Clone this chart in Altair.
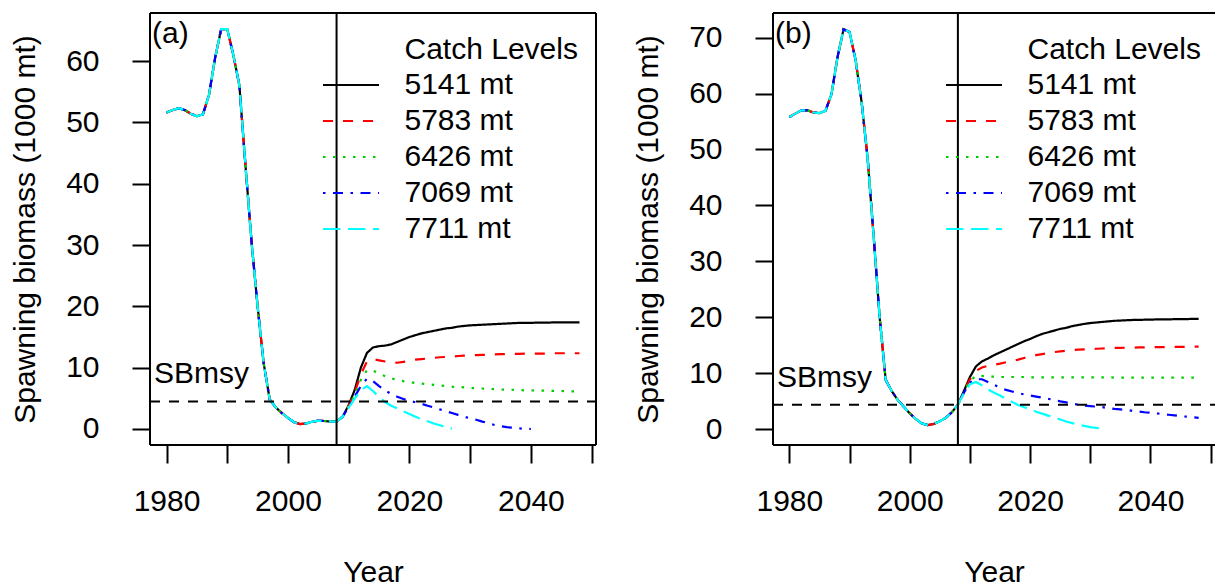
import altair as alt
import pandas as pd

FONT = "Liberation Sans"
FS = 30

# ---------------- data ----------------
years_hist = list(range(1980, 2009))
catch_levels = ["5141 mt", "5783 mt", "6426 mt", "7069 mt", "7711 mt"]
series_colors = ["#000000", "#FF0000", "#00CD00", "#0000FF", "#00FFFF"]
series_dash = [[1, 0], [10, 10], [2.5, 7.5], [2.5, 7.5, 10, 7.5], [17.5, 7.5]]

# panel (a): historical spawning biomass 1980-2008
hist_a = [51.6, 52.0, 52.3, 52.0, 51.4, 51.0, 51.3, 54.5, 60.5, 65.2,
          65.2, 61.0, 56.0, 43.0, 30.5, 20.0, 10.7, 4.8, 3.5, 2.6,
          1.8, 1.1, 0.8, 0.9, 1.2, 1.35, 1.3, 1.2, 1.2]
# projections from 2009
proj_a = [
    [2.0, 3.9, 6.4, 10.0, 12.4, 13.3, 13.5, 13.6, 13.8, 14.2,
     14.6, 15.0, 15.3, 15.6, 15.8, 16.0, 16.2, 16.4, 16.5, 16.7,
     16.8, 16.9, 16.95, 17.0, 17.05, 17.1, 17.15, 17.2, 17.25, 17.3,
     17.3, 17.3, 17.35, 17.35, 17.35, 17.4, 17.4, 17.4, 17.4, 17.4],
    [2.0, 3.8, 6.0, 8.9, 11.0, 11.4, 11.2, 11.0, 10.85, 10.8,
     10.95, 11.1, 11.3, 11.4, 11.5, 11.6, 11.7, 11.75, 11.8, 11.9,
     11.95, 12.0, 12.05, 12.1, 12.1, 12.15, 12.2, 12.2, 12.25, 12.25,
     12.3, 12.3, 12.3, 12.3, 12.3, 12.35, 12.35, 12.35, 12.35, 12.35],
    [2.0, 3.7, 5.6, 8.0, 9.6, 9.5, 9.1, 8.6, 8.25, 8.0,
     7.8, 7.65, 7.5, 7.4, 7.3, 7.2, 7.1, 7.0, 6.9, 6.85,
     6.8, 6.7, 6.65, 6.6, 6.55, 6.5, 6.45, 6.4, 6.4, 6.35,
     6.3, 6.3, 6.25, 6.25, 6.2, 6.2, 6.2, 6.15, 6.15, 6.1],
    [2.0, 3.6, 5.3, 7.0, 8.2, 7.8, 7.0, 6.3, 5.7, 5.25,
     4.9, 4.6, 4.35, 4.1, 3.8, 3.5, 3.2, 2.9, 2.6, 2.3,
     2.0, 1.75, 1.5, 1.2, 0.95, 0.65, 0.45, 0.3, 0.2, 0.1,
     0.05, 0.0],
    [2.0, 3.5, 5.0, 6.3, 7.0, 6.2, 5.2, 4.4, 3.8, 3.35,
     2.9, 2.45, 2.0, 1.6, 1.25, 0.9, 0.6, 0.3, 0.05],
]
sbmsy_a = 4.5

# panel (b)
hist_b = [55.8, 56.4, 57.0, 57.0, 56.6, 56.5, 56.9, 59.9, 66.5, 71.5,
          71.0, 66.0, 58.5, 48.5, 34.5, 20.0, 8.8, 6.8, 5.2, 4.0,
          2.8, 1.8, 1.0, 0.7, 0.9, 1.4, 2.0, 3.0, 4.35]
proj_b = [
    [6.8, 9.3, 11.2, 12.1, 12.6, 13.2, 13.7, 14.2, 14.7, 15.2,
     15.7, 16.1, 16.6, 17.0, 17.3, 17.6, 17.9, 18.1, 18.4, 18.6,
     18.8, 18.95, 19.05, 19.15, 19.25, 19.35, 19.4, 19.45, 19.5, 19.5,
     19.55, 19.55, 19.6, 19.6, 19.6, 19.65, 19.65, 19.65, 19.7, 19.7],
    [6.7, 8.9, 10.4, 11.0, 11.3, 11.5, 11.7, 11.95, 12.15, 12.4,
     12.7, 12.95, 13.2, 13.4, 13.6, 13.75, 13.9, 14.0, 14.1, 14.2,
     14.25, 14.3, 14.35, 14.4, 14.45, 14.5, 14.5, 14.55, 14.55, 14.6,
     14.6, 14.6, 14.65, 14.65, 14.65, 14.7, 14.7, 14.7, 14.7, 14.75],
    [6.6, 8.6, 9.5, 9.5, 9.4, 9.35, 9.3, 9.3, 9.3, 9.3,
     9.3, 9.25, 9.25, 9.25, 9.25, 9.25, 9.25, 9.25, 9.25, 9.25,
     9.25, 9.25, 9.25, 9.25, 9.25, 9.2, 9.2, 9.2, 9.2, 9.2,
     9.2, 9.2, 9.2, 9.2, 9.2, 9.2, 9.2, 9.2, 9.2, 9.2],
    [6.5, 8.3, 8.9, 8.9, 8.4, 7.9, 7.4, 7.0, 6.7, 6.4,
     6.2, 6.0, 5.8, 5.6, 5.4, 5.2, 4.95, 4.75, 4.55, 4.35,
     4.2, 4.1, 4.0, 3.9, 3.75, 3.6, 3.5, 3.4, 3.25, 3.15,
     3.0, 2.9, 2.8, 2.65, 2.55, 2.45, 2.3, 2.2, 2.1, 2.0],
    [6.4, 8.0, 8.4, 7.8, 7.1, 6.5, 6.0, 5.4, 4.85, 4.3,
     3.9, 3.5, 3.1, 2.75, 2.4, 2.05, 1.7, 1.35, 1.05, 0.8,
     0.55, 0.35, 0.2, 0.05],
]
sbmsy_b = 4.35

x_ticks = [1980, 1990, 2000, 2010, 2020, 2030, 2040, 2050]
y_ticks_a = [0, 10, 20, 30, 40, 50, 60]
y_ticks_b = [0, 10, 20, 30, 40, 50, 60, 70]
x_domain = [1977.28, 2050.72]
y_domain_a = [-2.61, 67.83]
y_domain_b = [-2.86, 74.4]

PLOT_H = 432


def panel(tag, hist, projs, sbmsy, y_domain, y_ticks, width, right_edge):
    xs = alt.Scale(domain=x_domain, nice=False, zero=False)
    ys = alt.Scale(domain=y_domain, nice=False, zero=False)
    xaxis = alt.Axis(values=x_ticks, format="d",
                     labelExpr="datum.value % 20 == 0 ? datum.label : ''",
                     tickSize=18, tickWidth=2, tickColor="black",
                     domain=False, grid=False, labelFlush=False, labelOverlap=False,
                     labelFont=FONT, labelFontSize=FS, labelColor="black",
                     labelPadding=23, title="Year", titleFont=FONT,
                     titleFontSize=FS, titleFontWeight="normal", titleColor="black",
                     titleY=136.5, titleBaseline="alphabetic")
    yaxis = alt.Axis(values=y_ticks, format="d",
                     tickSize=18, tickWidth=2, tickColor="black",
                     domain=False, grid=False, labelOverlap=False,
                     labelFont=FONT, labelFontSize=FS, labelColor="black",
                     labelPadding=33, title="Spawning biomass (1000 mt)",
                     titleFont=FONT, titleFontSize=FS, titleFontWeight="normal",
                     titleColor="black", titleX=-116, titleBaseline="alphabetic")
    X = alt.X("year:Q", scale=xs, axis=xaxis)
    Y = alt.Y("value:Q", scale=ys, axis=yaxis)

    layers = []
    for i in range(len(catch_levels)):
        proj = projs[i]
        yrs = years_hist + list(range(years_hist[-1] + 1, years_hist[-1] + 1 + len(proj)))
        df = pd.DataFrame({"year": yrs, "value": hist + proj})
        layers.append(
            alt.Chart(df).mark_line(color=series_colors[i], strokeDash=series_dash[i],
                                    strokeWidth=2.2, strokeCap="butt", clip=True)
            .encode(x=X, y=Y)
        )
    # vertical line at the start of projections
    vdf = pd.DataFrame({"year": [years_hist[-1]]})
    layers.append(alt.Chart(vdf).mark_rule(color="black", strokeWidth=2)
                  .encode(x=X, y=alt.value(0), y2=alt.value(PLOT_H)))
    # SBmsy line
    sdf = pd.DataFrame({"value": [sbmsy]})
    layers.append(alt.Chart(sdf).mark_rule(color="black", strokeWidth=2, strokeDash=[10, 9])
                  .encode(y=Y, x=alt.value(0), x2=alt.value(width)))
    layers.append(alt.Chart(sdf).mark_text(align="left", baseline="alphabetic", dy=-18,
                                           font=FONT, fontSize=FS, color="black")
                  .encode(y=Y, x=alt.value(4), text=alt.value("SBmsy")))

    one = pd.DataFrame({"k": [0]})
    # panel tag
    layers.append(alt.Chart(one).mark_text(align="left", baseline="alphabetic",
                                           font=FONT, fontSize=FS, color="black")
                  .encode(x=alt.value(2), y=alt.value(30), text=alt.value(tag)))
    # legend
    layers.append(alt.Chart(one).mark_text(align="left", baseline="middle",
                                           font=FONT, fontSize=FS, color="black")
                  .encode(x=alt.value(254.5), y=alt.value(37), text=alt.value("Catch Levels")))
    for i, name in enumerate(catch_levels):
        yy = 72 + 36 * i
        layers.append(alt.Chart(one).mark_rule(color=series_colors[i], strokeDash=series_dash[i],
                                               strokeWidth=2.2, strokeCap="butt")
                      .encode(x=alt.value(173), x2=alt.value(229), y=alt.value(yy)))
        layers.append(alt.Chart(one).mark_text(align="left", baseline="middle",
                                               font=FONT, fontSize=FS, color="black")
                      .encode(x=alt.value(254.5), y=alt.value(yy), text=alt.value(name)))
    # frame
    layers.append(alt.Chart(one).mark_rule(color="black", strokeWidth=2)
                  .encode(x=alt.value(0), x2=alt.value(width), y=alt.value(0)))
    layers.append(alt.Chart(one).mark_rule(color="black", strokeWidth=2)
                  .encode(x=alt.value(0), x2=alt.value(width), y=alt.value(PLOT_H)))
    layers.append(alt.Chart(one).mark_rule(color="black", strokeWidth=2)
                  .encode(x=alt.value(0), y=alt.value(0), y2=alt.value(PLOT_H)))
    if right_edge:
        layers.append(alt.Chart(one).mark_rule(color="black", strokeWidth=2)
                      .encode(x=alt.value(width), y=alt.value(0), y2=alt.value(PLOT_H)))
    return alt.layer(*layers).properties(width=width, height=PLOT_H)


pa = panel("(a)", hist_a, proj_a, sbmsy_a, y_domain_a, y_ticks_a, 446, True)
pb = panel("(b)", hist_b, proj_b, sbmsy_b, y_domain_b, y_ticks_b, 442, False)

chart = (
    alt.hconcat(pa, pb, spacing=177, bounds="flush")
    .resolve_scale(x="independent", y="independent")
    .properties(padding={"left": 9, "top": 12, "right": 0, "bottom": 0}, background="white")
    .configure_view(stroke=None)
)

chart.save("out.html", embed_options={"renderer": "svg", "actions": False})
